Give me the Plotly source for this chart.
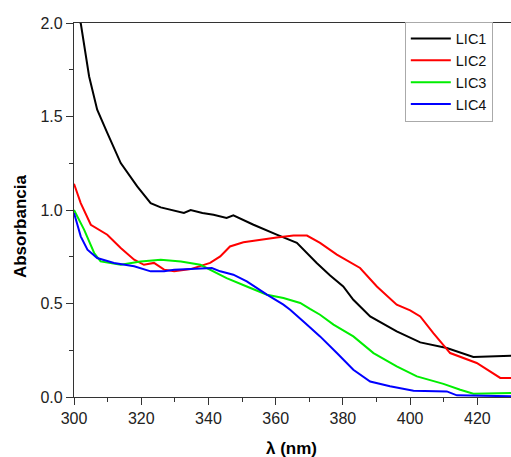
import plotly.graph_objects as go

lic1_x = [300, 302.0, 304.5, 306.9, 309.9, 313.9, 318.8, 322.8, 325.8, 332.7, 334.7, 338.2, 341.5, 345.4, 347.4,
          353.4, 360.3, 366.3, 372.2, 376.2, 380.1, 383.1, 388.1, 396.0, 403.0, 410.9, 418.8, 422.8, 430]
lic1_y = [2.03, 2.0, 1.714, 1.536, 1.412, 1.251, 1.126, 1.037, 1.014, 0.984, 1.0, 0.984, 0.975, 0.957, 0.971,
          0.921, 0.868, 0.824, 0.717, 0.65, 0.591, 0.520, 0.431, 0.351, 0.292, 0.262, 0.214, 0.217, 0.221]

lic2_x = [300, 302, 305, 309.9, 313.9, 317.9, 320.8, 323.8, 326.8, 329.8, 334.7, 340.5, 343.5, 346.4, 350.4,
          355.4, 360.3, 365.3, 369.3, 373.2, 378.2, 385.1, 390.1, 396.0, 400.0, 403.0, 406.9, 411.9, 414.9,
          419.8, 426.8, 430]
lic2_y = [1.14, 1.037, 0.921, 0.868, 0.797, 0.734, 0.707, 0.717, 0.681, 0.672, 0.684, 0.717, 0.752, 0.805, 0.827,
          0.841, 0.853, 0.864, 0.863, 0.824, 0.761, 0.690, 0.591, 0.494, 0.463, 0.431, 0.342, 0.235, 0.214,
          0.182, 0.102, 0.102]

lic3_x = [300, 303, 306, 307.9, 313.9, 319.8, 325.8, 331.8, 337.6, 341.5, 345.4, 351.4, 357.4, 362.3, 367.3,
          370.2, 373.2, 377.2, 383.1, 389.1, 396.0, 402.0, 409.9, 414.9, 418.8, 430]
lic3_y = [1.0, 0.895, 0.770, 0.725, 0.707, 0.725, 0.734, 0.725, 0.707, 0.672, 0.636, 0.591, 0.547, 0.529, 0.503,
          0.471, 0.440, 0.387, 0.324, 0.235, 0.164, 0.110, 0.070, 0.039, 0.018, 0.021]

lic4_x = [300, 302, 304, 306.9, 311.9, 317.9, 322.8, 326.8, 329.8, 333.7, 337.7, 341.0, 343.5, 347.4, 351.4,
          357.4, 362.3, 364.3, 368.5, 373.2, 378.2, 383.1, 388.1, 394.0, 401.0, 410.9, 413.9, 430]
lic4_y = [0.984, 0.859, 0.788, 0.743, 0.717, 0.699, 0.672, 0.672, 0.681, 0.684, 0.690, 0.690, 0.672, 0.654, 0.618,
          0.547, 0.494, 0.467, 0.40, 0.324, 0.235, 0.146, 0.083, 0.057, 0.034, 0.030, 0.009, 0.004]

series = [
    ("LIC1", lic1_x, lic1_y, "#000000"),
    ("LIC2", lic2_x, lic2_y, "#ff0000"),
    ("LIC3", lic3_x, lic3_y, "#00ee00"),
    ("LIC4", lic4_x, lic4_y, "#0000ff"),
]

x_ticks = [300, 320, 340, 360, 380, 400, 420]
y_ticks = [0.0, 0.5, 1.0, 1.5, 2.0]

FONT = "Arial, Liberation Sans, sans-serif"

fig = go.Figure()
for name, xs, ys, col in series:
    fig.add_trace(go.Scatter(x=xs, y=ys, mode="lines", name=name,
                             line=dict(color=col, width=2)))

axis_common = dict(
    showgrid=False, zeroline=False, showline=True, linecolor="#333333", linewidth=1.3,
    mirror=True, ticks="outside", ticklen=7, tickwidth=1.3, tickcolor="#333333",
    tickfont=dict(family=FONT, size=16, color="#222222"),
)

fig.update_layout(
    width=511, height=457,
    margin=dict(l=74, r=0, t=23, b=60),
    paper_bgcolor="white", plot_bgcolor="white",
    xaxis=dict(range=[300, 430], tickvals=x_ticks, ticktext=[str(v) for v in x_ticks],
               minor=dict(dtick=10, ticks="outside", ticklen=4, tickcolor="#333333", tickwidth=1.2),
               **axis_common),
    yaxis=dict(range=[0, 2.0], tickvals=y_ticks, ticktext=["0.0", "0.5", "1.0", "1.5", "2.0"],
               minor=dict(dtick=0.25, ticks="outside", ticklen=4, tickcolor="#333333", tickwidth=1.2),
               **axis_common),
    legend=dict(x=0.757, y=1.004, xanchor="left", yanchor="top",
                bgcolor="white", bordercolor="#aaaaaa", borderwidth=1,
                font=dict(family=FONT, size=14.5, color="#111111"),
                itemwidth=40, tracegroupgap=0),
    showlegend=True,
    annotations=[
        dict(text="<b>Absorbancia</b>", xref="paper", yref="paper", x=-0.1236, y=0.457,
             xanchor="center", yanchor="middle", textangle=-90, showarrow=False,
             font=dict(family=FONT, size=17, color="#000000")),
        dict(text="<b>λ (nm)</b>", xref="paper", yref="paper", x=0.497, y=-0.139,
             xanchor="center", yanchor="middle", showarrow=False,
             font=dict(family=FONT, size=17, color="#000000")),
    ],
)

fig.write_html("out.html")
